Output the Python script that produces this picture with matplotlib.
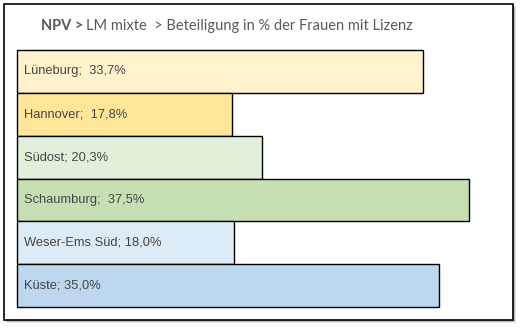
import matplotlib.pyplot as plt
from matplotlib.patches import Rectangle

regions = ['Lüneburg', 'Hannover', 'Südost', 'Schaumburg', 'Weser-Ems Süd', 'Küste']
shares = [33.7, 17.8, 20.3, 37.5, 18.0, 35.0]
labels = ['Lüneburg;  33,7%', 'Hannover;  17,8%', 'Südost; 20,3%',
          'Schaumburg;  37,5%', 'Weser-Ems Süd; 18,0%', 'Küste; 35,0%']
colors = ['#FFF2CC', '#FFE699', '#E2EFDA', '#C6E0B4', '#DDEBF7', '#BDD7EE']

W, H = 523, 331
fig = plt.figure(figsize=(W / 100, H / 100), dpi=100)

# frame with a soft shadow
for i, a in enumerate([0.10, 0.16, 0.24]):
    off = 3 - i
    fig.patches.append(Rectangle(((4 + off) / W, 1 - (320 + off) / H), 509 / W, 316 / H,
                                 transform=fig.transFigure, facecolor='#000000',
                                 alpha=a, edgecolor='none', zorder=0))
fig.patches.append(Rectangle((4 / W, 1 - 320 / H), 509 / W, 316 / H,
                             transform=fig.transFigure, facecolor='white',
                             edgecolor='black', linewidth=1.2, zorder=1))

ax = fig.add_axes([17 / W, 1 - 307 / H, (469 - 17) / W, 257 / H])
ax.set_zorder(2)
ax.patch.set_visible(False)
ax.barh(range(len(shares)), shares, height=1.0, color=colors,
        edgecolor='black', linewidth=1.0)
ax.set_xlim(0, 37.5)
ax.set_ylim(len(shares) - 0.5, -0.5)
ax.axis('off')
for bar in ax.patches:
    bar.set_clip_on(False)

for i, lab in enumerate(labels):
    ax.text(0.55, i, lab, va='center', ha='left', fontsize=9.3,
            family='Liberation Sans', color='#454545')

fig.text(41 / W, 1 - 26 / H, 'NPV >', fontsize=10.5, fontweight='bold',
         family='Lato', color='#595959', va='center')
fig.text(86 / W, 1 - 26 / H, 'LM mixte  > Beteiligung in % der Frauen mit Lizenz',
         fontsize=10.5, family='Lato', color='#595959', va='center')

fig.savefig('out.png', dpi=100)
